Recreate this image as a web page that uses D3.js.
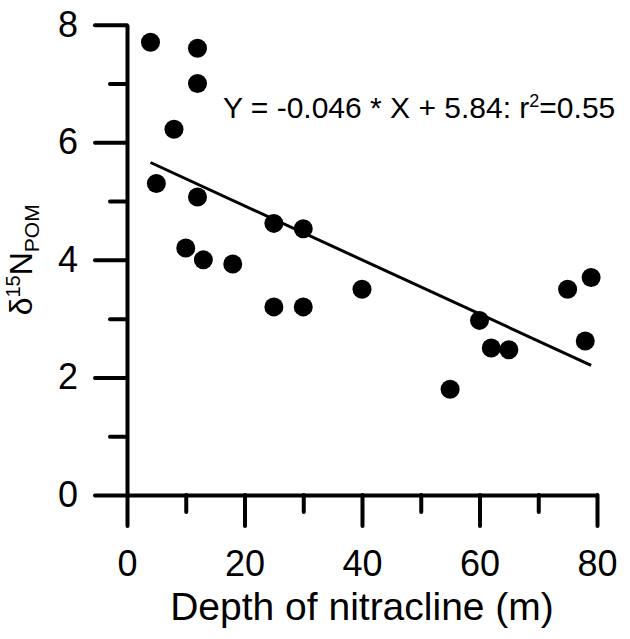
<!DOCTYPE html>
<html>
<head>
<meta charset="utf-8">
<script src="https://cdn.jsdelivr.net/npm/d3@7"></script>
<style>
  body { margin: 0; background: #fff; }
  svg text { font-family: "Liberation Sans", Arial, sans-serif; fill: #000; }
</style>
</head>
<body>
<svg id="chart"></svg>
<script>
// data
var depth = [4, 12, 12, 8, 5, 12, 25, 30, 10, 13, 18, 25, 30, 40, 60, 62, 65, 55, 75, 79, 78];
var d15N = [7.7, 7.6, 7.0, 6.22, 5.3, 5.07, 4.62, 4.53, 4.2, 4.0, 3.93, 3.2, 3.2, 3.5, 2.97, 2.5, 2.47, 1.8, 3.5, 3.7, 2.62];
var xMajor = [0, 20, 40, 60, 80];
var xMinor = [10, 30, 50, 70];
var yMajor = [0, 2, 4, 6, 8];
var yMinor = [1, 3, 5, 7];
var slope = -0.046, intercept = 5.84, r2 = "0.55";

var W = 630, H = 639;
var margin = {top: 24.7, right: 33, bottom: 144, left: 127};
var width = W - margin.left - margin.right;
var height = H - margin.top - margin.bottom;

var data = depth.map(function (d, i) { return {x: d, y: d15N[i]}; });

var x = d3.scaleLinear().domain([0, 80]).range([0, width]);
var y = d3.scaleLinear().domain([0, 8]).range([height, 0]);

var svg = d3.select("#chart").attr("width", W).attr("height", H)
    .append("g")
    .attr("transform", "translate(" + margin.left + "," + margin.top + ")");

function styleAxis(g) {
    g.selectAll("path, line").attr("stroke", "#000").attr("stroke-width", 4);
    g.selectAll("line").attr("stroke-linecap", "round");
    g.selectAll("text").style("font-size", "36px").attr("fill", "#000");
    g.attr("font-family", null);
}

// y axis
svg.append("g")
    .call(d3.axisLeft(y).tickValues(yMajor).tickSize(32).tickSizeOuter(0).tickPadding(17).tickFormat(d3.format("d")))
    .call(styleAxis);
svg.append("g")
    .call(d3.axisLeft(y).tickValues(yMinor).tickSize(17).tickFormat(""))
    .call(styleAxis)
    .select(".domain").remove();

// x axis
svg.append("g")
    .attr("transform", "translate(0," + height + ")")
    .call(d3.axisBottom(x).tickValues(xMajor).tickSize(31).tickSizeOuter(0).tickPadding(24).tickFormat(d3.format("d")))
    .call(styleAxis);
svg.append("g")
    .attr("transform", "translate(0," + height + ")")
    .call(d3.axisBottom(x).tickValues(xMinor).tickSize(17).tickFormat(""))
    .call(styleAxis)
    .select(".domain").remove();

// regression line over the data range
var xr = d3.extent(depth);
svg.append("line")
    .attr("x1", x(xr[0])).attr("y1", y(slope * xr[0] + intercept))
    .attr("x2", x(xr[1])).attr("y2", y(slope * xr[1] + intercept))
    .attr("stroke", "#000").attr("stroke-width", 3);

// points
svg.selectAll(".dot")
    .data(data)
    .enter().append("circle")
    .attr("class", "dot")
    .attr("cx", function (d) { return x(d.x); })
    .attr("cy", function (d) { return y(d.y); })
    .attr("r", 9.5)
    .attr("fill", "#000");

// equation
var eq = svg.append("text")
    .attr("x", 96).attr("y", 93.6)
    .style("font-size", "30px");
eq.append("tspan").text("Y = " + slope.toFixed(3) + " * X + " + intercept.toFixed(2) + ": r");
eq.append("tspan").attr("dy", -11).style("font-size", "18px").text("2");
eq.append("tspan").attr("dy", 11).text("=" + r2);

// x title
svg.append("text")
    .attr("x", width / 2).attr("y", 595)
    .attr("text-anchor", "middle")
    .style("font-size", "39px")
    .text("Depth of nitracline (m)");

// y title
var yt = svg.append("text")
    .attr("transform", "translate(" + (32 - margin.left) + "," + y(4) + ") rotate(-90)")
    .attr("text-anchor", "middle")
    .style("font-size", "32px");
yt.append("tspan").text("\u03B4");
yt.append("tspan").attr("dy", -12).style("font-size", "20px").text("15");
yt.append("tspan").attr("dy", 12).text("N");
yt.append("tspan").attr("dy", 7).style("font-size", "21px").text("POM");
</script>
</body>
</html>
